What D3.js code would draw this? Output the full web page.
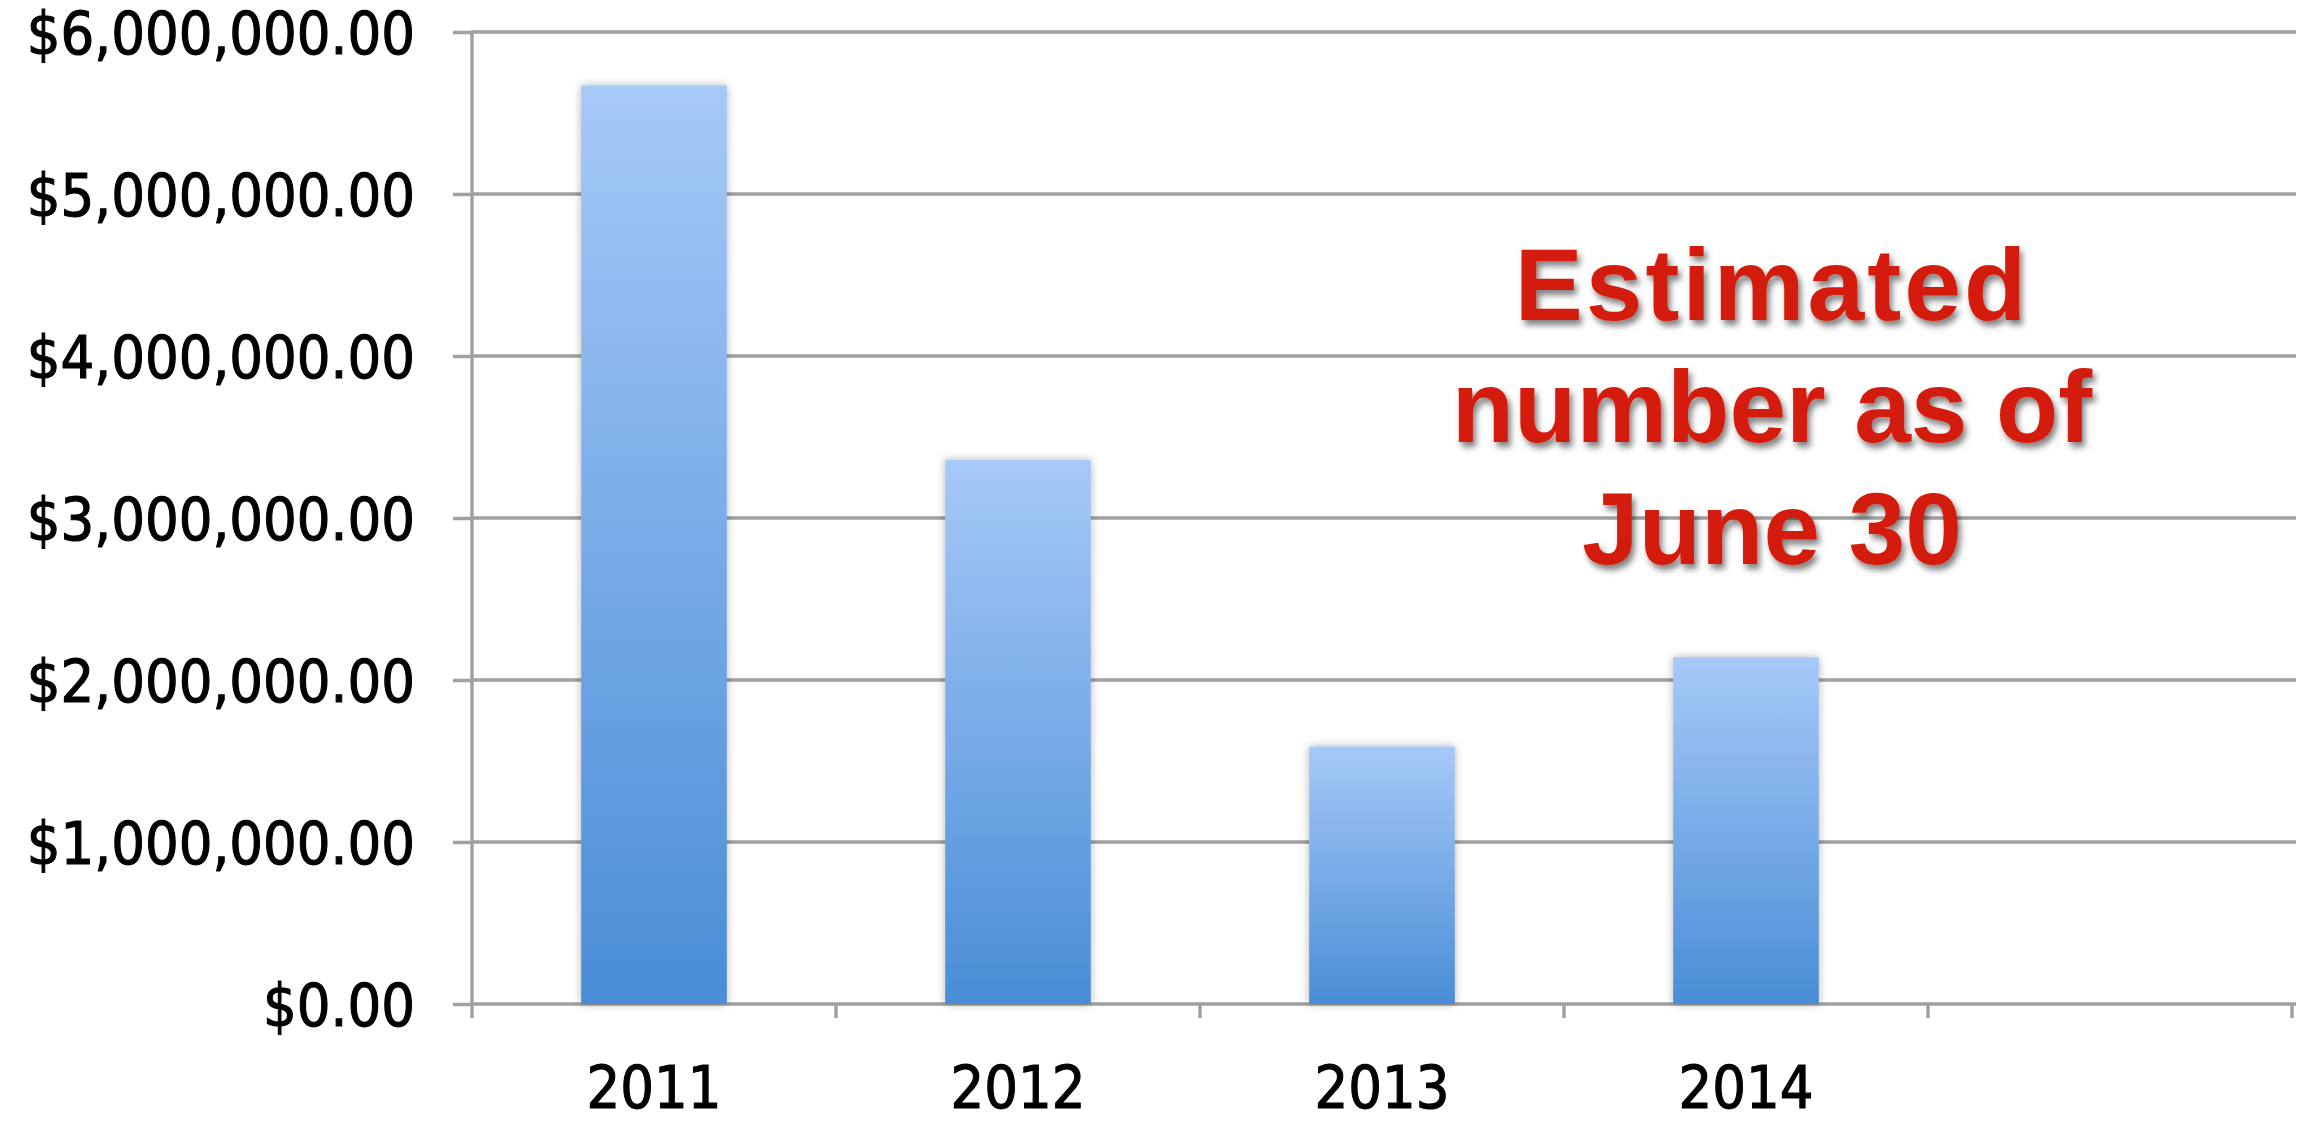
<!DOCTYPE html>
<html>
<head>
<meta charset="utf-8">
<script src="https://cdn.jsdelivr.net/npm/d3@7"></script>
<style>
  html, body { margin: 0; padding: 0; background: #ffffff; }
  svg { display: block; }
  .tick-label { font-family: "DejaVu Sans Condensed", "DejaVu Sans", sans-serif; font-stretch: condensed; fill: #000; stroke: #000; stroke-width: 1.1px; }
  .note { font-family: "Liberation Sans", Arial, Helvetica, sans-serif; font-weight: bold; fill: #d31f08; }
</style>
</head>
<body>
<script>
// Yearly totals (USD); the last slot is an empty category that keeps the plot width.
const categories = ["2011", "2012", "2013", "2014", ""];
const years = ["2011", "2012", "2013", "2014"];
const amounts = [5670000, 3360000, 1590000, 2140000];
const yTicks = [0, 1000000, 2000000, 3000000, 4000000, 5000000, 6000000];
const noteLines = ["Estimated", "number as of", "June 30"];

const W = 2299, H = 1121;
const plot = { left: 472, right: 2292, top: 32, bottom: 1004 };

const svg = d3.select("body").append("svg")
  .attr("width", W).attr("height", H);

const defs = svg.append("defs");

// Vertical fill for each bar: pale blue at the top to mid blue at the base
const grad = defs.append("linearGradient")
  .attr("id", "barFill").attr("x1", 0).attr("y1", 0).attr("x2", 0).attr("y2", 1);
grad.append("stop").attr("offset", "0%").attr("stop-color", "#a6c9f8");
grad.append("stop").attr("offset", "100%").attr("stop-color", "#4a8dd6");

// Soft halo around the bars
const halo = defs.append("filter").attr("id", "barHalo")
  .attr("x", "-20%").attr("y", "-5%").attr("width", "140%").attr("height", "110%");
halo.append("feGaussianBlur").attr("in", "SourceAlpha").attr("stdDeviation", 5).attr("result", "b");
halo.append("feComponentTransfer").attr("in", "b").attr("result", "s")
  .append("feFuncA").attr("type", "linear").attr("slope", 0.3);
const hm = halo.append("feMerge");
hm.append("feMergeNode").attr("in", "s");
hm.append("feMergeNode").attr("in", "SourceGraphic");

// Drop shadow for the red note
const shadow = defs.append("filter").attr("id", "noteShadow")
  .attr("x", "-10%").attr("y", "-20%").attr("width", "120%").attr("height", "150%");
shadow.append("feDropShadow").attr("dx", 3).attr("dy", 5).attr("stdDeviation", 3)
  .attr("flood-color", "#000").attr("flood-opacity", 0.5);

const x = d3.scaleBand().domain(categories).range([plot.left, plot.right]).padding(0);
const y = d3.scaleLinear().domain([0, 6000000]).range([plot.bottom, plot.top]);
const fmt = d3.format("$,.2f");

const gridColor = "#a0a0a0";
const gridWidth = 3.5;

// Horizontal gridlines
svg.append("g").selectAll("line").data(yTicks).join("line")
  .attr("x1", plot.left).attr("x2", 2296)
  .attr("y1", d => y(d)).attr("y2", d => y(d))
  .attr("stroke", gridColor).attr("stroke-width", gridWidth);

// Y axis: short ticks to the left plus labels
const yAxis = svg.append("g").attr("transform", `translate(${plot.left},0)`)
  .call(d3.axisLeft(y).tickValues(yTicks).tickFormat(fmt).tickSizeInner(19).tickSizeOuter(0).tickPadding(38));
yAxis.select(".domain").remove();
yAxis.selectAll(".tick line").attr("stroke", gridColor).attr("stroke-width", gridWidth);
yAxis.selectAll(".tick text").attr("class", "tick-label").attr("font-size", 59)
  .attr("font-family", null).attr("dy", "0.36em");

// Vertical axis line, running down past the baseline
svg.append("line")
  .attr("x1", plot.left).attr("x2", plot.left)
  .attr("y1", plot.top - 1.5).attr("y2", plot.bottom + 14)
  .attr("stroke", gridColor).attr("stroke-width", gridWidth);

// X axis ticks sit on the category boundaries
const boundaries = categories.map(c => x(c)).concat([x.range()[1]]);
svg.append("g").selectAll("line").data(boundaries.slice(1)).join("line")
  .attr("x1", d => d).attr("x2", d => d)
  .attr("y1", plot.bottom).attr("y2", plot.bottom + 14)
  .attr("stroke", gridColor).attr("stroke-width", gridWidth);

// Category labels
const xAxis = svg.append("g").attr("transform", `translate(0,${plot.bottom})`)
  .call(d3.axisBottom(x).tickSize(0).tickPadding(62));
xAxis.select(".domain").remove();
xAxis.selectAll(".tick text").attr("class", "tick-label").attr("font-size", 59)
  .attr("font-family", null).attr("dy", "0.71em");

// Bars
const barW = x.bandwidth() * 0.4;
svg.append("g").attr("filter", "url(#barHalo)")
  .selectAll("rect").data(years.map((yr, i) => ({ yr, v: amounts[i] }))).join("rect")
  .attr("x", d => x(d.yr) + (x.bandwidth() - barW) / 2)
  .attr("y", d => y(d.v))
  .attr("width", barW)
  .attr("height", d => y(0) - y(d.v))
  .attr("fill", "url(#barFill)");

// Red note
const note = svg.append("text").attr("class", "note")
  .attr("font-size", 102).attr("text-anchor", "middle")
  .attr("filter", "url(#noteShadow)");
note.selectAll("tspan").data(noteLines).join("tspan")
  .attr("x", 1772)
  .attr("y", (d, i) => 320 + i * 122)
  .attr("letter-spacing", (d, i) => i === 0 ? 3 : 0)
  .text(d => d);
</script>
</body>
</html>
